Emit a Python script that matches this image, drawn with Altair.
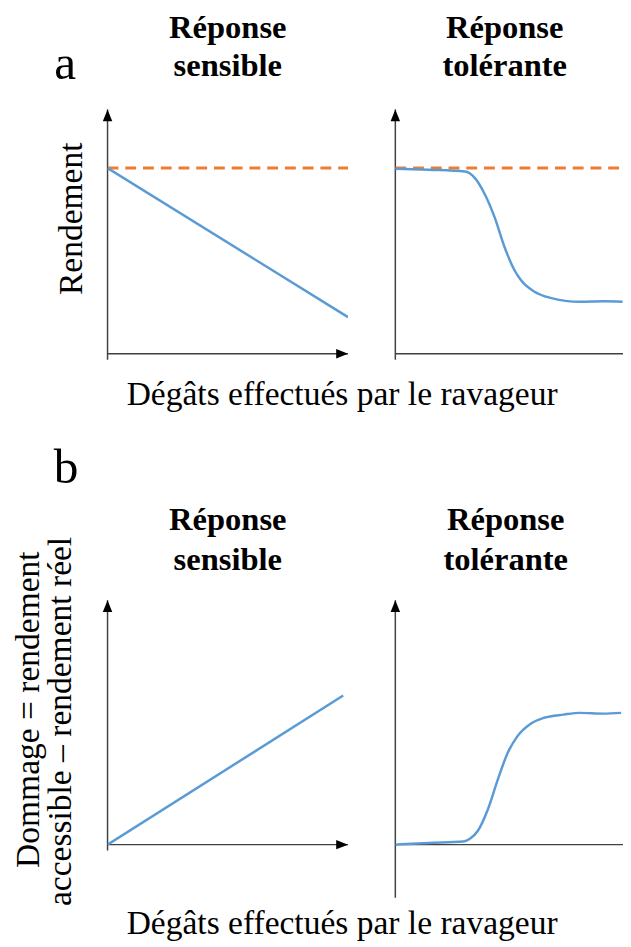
import altair as alt
import pandas as pd

SERIF = "'Liberation Serif', 'Times New Roman', Times, 'DejaVu Serif', serif"
BLUE = "#5B9BD5"
ORANGE = "#ED7D31"
AXIS_COLOR = "#404040"

# ---------------- data (in axis units 0..1) ----------------
# a) yield vs pest damage
sens_damage = [0.0, 1.0]
sens_yield = [0.76, 0.15]
potential_yield = [0.76]

tol_damage = [0.0, 0.139, 0.29, 0.331, 0.372, 0.413, 0.454, 0.495, 0.522, 0.577, 0.645, 0.768, 0.864, 0.945]
tol_yield = [0.757, 0.753, 0.746, 0.719, 0.653, 0.558, 0.437, 0.343, 0.302, 0.255, 0.229, 0.213, 0.215, 0.213]

# b) yield loss vs pest damage
sens_damage_b = [0.0, 0.98]
sens_loss = [0.0, 0.61]

tol_damage_b = [0.0, 0.139, 0.283, 0.31, 0.344, 0.385, 0.426, 0.467, 0.508, 0.563, 0.618, 0.7, 0.768, 0.864, 0.939]
tol_loss = [0.0, 0.007, 0.013, 0.024, 0.058, 0.145, 0.266, 0.375, 0.444, 0.495, 0.519, 0.532, 0.539, 0.536, 0.539]

# ---------------- layout ----------------
W_L = 244          # left panels, axis length in px
W_R = 231          # right panels are cut by the page edge
H_AX = 248         # vertical axis length in px
EXTRA_BOTTOM = 6   # room under the x axis
EXTRA_BOTTOM_BR = 54  # y axis of panel b-right goes below the x axis

UP = "M0,0L-0.4,1L0.4,1Z"
RIGHT = "M0,0L-1,-0.4L-1,0.4Z"


def label(text, x, y, size, bold=False, angle=0):
    return alt.Chart(alt.Data(values=[{"t": text}])).mark_text(
        font=SERIF, fontSize=size, fontWeight="bold" if bold else "normal",
        angle=angle, align="center", baseline="alphabetic", color="black"
    ).encode(x=alt.value(x), y=alt.value(y), text="t:N")


def panel(cx, cy, width, extra_bottom, dashed=None, texts=()):
    xmax = width / W_L
    ymin = -extra_bottom / H_AX
    xs = alt.Scale(domain=[0, xmax], nice=False, zero=False)
    ys = alt.Scale(domain=[ymin, 1], nice=False, zero=False)

    def X(f="x"):
        return alt.X(f"{f}:Q", scale=xs, axis=None)

    def Y(f="y"):
        return alt.Y(f"{f}:Q", scale=ys, axis=None)

    yaxis = alt.Chart(pd.DataFrame({"x": [0], "y": [ymin], "y2": [1]})).mark_rule(
        color=AXIS_COLOR, strokeWidth=1.5
    ).encode(x=X(), y=Y(), y2="y2:Q")
    xaxis = alt.Chart(pd.DataFrame({"x": [0], "x2": [1], "y": [0]})).mark_rule(
        color=AXIS_COLOR, strokeWidth=1.5, clip=True
    ).encode(x=X(), x2="x2:Q", y=Y())
    up = alt.Chart(pd.DataFrame({"x": [0], "y": [1]})).mark_point(
        shape=UP, size=576, filled=True, color="black", opacity=1
    ).encode(x=X(), y=Y())
    right = alt.Chart(pd.DataFrame({"x": [1], "y": [0]})).mark_point(
        shape=RIGHT, size=576, filled=True, color="black", opacity=1, clip=True
    ).encode(x=X(), y=Y())

    layers = [yaxis, xaxis, up, right]
    if dashed is not None:
        layers.append(
            alt.Chart(pd.DataFrame({"x": [0], "x2": [1], "y": dashed})).mark_rule(
                color=ORANGE, strokeWidth=3, strokeDash=[11, 7], clip=True
            ).encode(x=X(), x2="x2:Q", y=Y())
        )
    layers.append(
        alt.Chart(pd.DataFrame({"x": cx, "y": cy})).mark_line(
            color=BLUE, strokeWidth=2.5, interpolate="monotone", clip=True
        ).encode(x=X(), y=Y())
    )
    layers.extend(texts)
    return alt.layer(*layers).properties(width=width, height=H_AX + extra_bottom)


a_left = panel(
    sens_damage, sens_yield, W_L, EXTRA_BOTTOM, dashed=potential_yield,
    texts=[
        label("a", -43, -31, 50),
        label("Réponse", 122, -72, 33, bold=True),
        label("sensible", 122, -34, 33, bold=True),
        label("Rendement", -26, 111, 34, angle=270),
        label("Dégâts effectués par le ravageur", 238, 300, 34),
    ],
)
a_right = panel(
    tol_damage, tol_yield, W_R, EXTRA_BOTTOM, dashed=potential_yield,
    texts=[
        label("Réponse", 111, -72, 33, bold=True),
        label("tolérante", 111, -34, 33, bold=True),
    ],
)
b_left = panel(
    sens_damage_b, sens_loss, W_L, EXTRA_BOTTOM,
    texts=[
        label("b", -42, -119, 50),
        label("Réponse", 122, -71, 33, bold=True),
        label("sensible", 122, -31, 33, bold=True),
        label("Dommage = rendement", -70, 111, 34, angle=270),
        label("accessible – rendement réel", -37, 123, 34, angle=270),
        label("Dégâts effectués par le ravageur", 238, 339, 34),
    ],
)
b_right = panel(
    tol_damage_b, tol_loss, W_R, EXTRA_BOTTOM_BR,
    texts=[
        label("Réponse", 112, -71, 33, bold=True),
        label("tolérante", 112, -31, 33, bold=True),
    ],
)

ROW_GAP = (598 - 107) - (H_AX + EXTRA_BOTTOM) + 7

chart = alt.ConcatChart(
    concat=[a_left, a_right, b_left, b_right],
    columns=2,
    spacing={"row": ROW_GAP, "column": 48},
    bounds="flush",
).properties(
    padding={"left": 3, "top": -2, "right": 0, "bottom": 0},
    background="white",
).configure_view(strokeWidth=0)

chart.save("out.html", embed_options={"renderer": "svg", "actions": False})
